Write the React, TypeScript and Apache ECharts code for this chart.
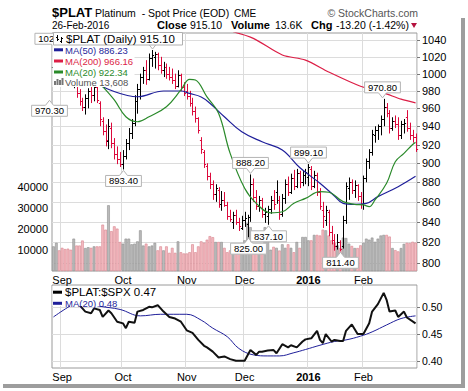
import React, { useEffect, useRef } from 'react';
import * as echarts from 'echarts';

const FONT = '"Liberation Sans", Arial, Helvetica, sans-serif';
const RED = '#dc0a3c';
const NAVY = '#1f1f9a';
const CRIMSON = '#dc1e46';
const GREEN = '#2a8a2a';
const GRID_LINE = '#dcdcdc';

// ---- calendar (trading days) ----
const HOLIDAYS = ['2015-09-07', '2015-11-26', '2015-12-25', '2016-01-01', '2016-01-18', '2016-02-15'];
const FIRST_DAY = '2015-08-27';
const LAST_DAY = '2016-02-26';
const MONTHS = ['Jan', 'Feb', 'Mar', 'Apr', 'May', 'Jun', 'Jul', 'Aug', 'Sep', 'Oct', 'Nov', 'Dec'];

function buildDates(): string[] {
  const out: string[] = [];
  const d = new Date(FIRST_DAY + 'T00:00:00Z');
  const end = new Date(LAST_DAY + 'T00:00:00Z').getTime();
  while (d.getTime() <= end) {
    const wd = d.getUTCDay();
    const s = d.toISOString().slice(0, 10);
    if (wd !== 0 && wd !== 6 && HOLIDAYS.indexOf(s) < 0) out.push(s);
    d.setUTCDate(d.getUTCDate() + 1);
  }
  return out;
}

// ---- daily OHLC of $PLAT ----
const opens = [
  1008, 1018, 1021, 1008, 999, 996, 993, 990, 992, 978,
  968, 962, 972, 980, 975, 984, 966, 946, 935, 924,
  938, 922, 910, 904, 899, 908, 922, 933, 944, 968,
  982, 996, 1004, 994, 1018, 1020, 1023, 1010, 1004, 1008,
  1000, 996, 992, 986, 998, 985, 980, 974, 966, 957,
  949, 925, 912, 897, 887, 878, 868, 872, 858, 862,
  857, 846, 840, 847, 840, 834, 842, 838, 845, 878,
  865, 856, 862, 848, 846, 853, 862, 870, 862, 848,
  864, 878, 870, 884, 876, 890, 880, 888, 886, 894,
  876, 888, 870, 852, 842, 850, 830, 822, 816, 820,
  816, 842, 874, 880, 872, 877, 866, 858, 884, 902,
  912, 930, 936, 940, 948, 962, 955, 938, 946, 942,
  930, 942, 950, 938, 930, 928,
];
const highs = [
  1027.9, 1026, 1023, 1012, 1006, 1004, 999, 1000, 996, 982,
  972, 976, 983, 986, 988, 987, 968, 950, 942, 948,
  944, 927, 918, 912, 914, 926, 938, 948, 975, 988,
  1000, 1008, 1016, 1024, 1028.2, 1026, 1025, 1020, 1014, 1012,
  1008, 1006, 1000, 1004, 1000, 990, 988, 980, 972, 962,
  950, 928, 914, 900, 890, 882, 878, 875, 871, 870,
  860, 852, 850, 852, 844, 846, 850, 847, 888.2, 884,
  872, 866, 864, 854, 856, 866, 872, 882, 866, 868,
  883, 886, 889, 893, 894, 892, 892, 894, 899.1, 897,
  892, 890, 874, 860, 856, 852, 836, 828, 828, 822,
  846, 880, 885, 883, 882, 878, 870, 887, 905, 915,
  936, 940, 942, 952, 970.8, 966, 958, 950, 952, 950,
  946, 948, 958, 944, 936, 932,
];
const lows = [
  1004, 1010, 1004, 995, 990, 989, 988, 983, 972, 963,
  957, 953, 960, 966, 968, 966, 940, 930, 918, 915,
  916, 904, 899, 896, 893.4, 904, 914, 926, 940, 954,
  970, 988, 987, 992, 1008, 1006, 1004, 1000, 996, 994,
  992, 988, 982, 984, 980, 974, 970, 962, 952, 944,
  932, 910, 895, 882, 873, 862, 860, 854, 851, 855,
  842, 840, 833, 837, 831, 832, 835, 825, 840, 860,
  852, 850, 844, 839, 837.1, 848, 852, 858, 842, 845,
  858, 866, 868, 872, 874, 874, 876, 878, 876, 872,
  874, 866, 852, 834, 836, 826, 818, 812, 813, 811.4,
  814, 838, 862, 868, 864, 861, 853, 852, 880, 894,
  908, 922, 925, 930, 940, 950, 932, 935, 938, 925,
  926, 932, 934, 925, 922, 912,
];
const closes = [
  1018, 1021, 1008, 999, 996, 993, 990, 995, 978, 968,
  961, 972, 980, 975, 984, 970, 948, 935, 925, 940,
  922, 910, 904, 899, 908, 922, 933, 944, 968, 982,
  996, 1004, 994, 1018, 1022, 1023, 1010, 1004, 1008, 1000,
  996, 992, 986, 998, 985, 978, 974, 966, 957, 949,
  936, 915, 899, 887, 878, 868, 874, 858, 862, 857,
  846, 843, 847, 840, 836, 842, 844, 845, 878, 865,
  856, 862, 848, 850, 853, 862, 858, 862, 848, 864,
  878, 870, 884, 876, 890, 880, 888, 891, 896, 876,
  888, 870, 856, 846, 852, 830, 822, 816, 820, 814,
  842, 876, 880, 872, 877, 866, 858, 884, 902, 912,
  932, 936, 940, 948, 962, 955, 938, 946, 942, 930,
  942, 944, 938, 930, 928.3, 915.1,
];
// daily volume, thousands
const volumesK = [
  11.8, 13.5, 9.9, 11.1, 10.5, 10.7, 10.2, 15.5, 12.2, 12.2,
  14.6, 11.0, 11.4, 11.1, 11.8, 11.8, 11.8, 22.2, 19.8, 31.5,
  19.1, 21.4, 20.3, 13.9, 13.1, 15.5, 15.5, 12.8, 13.1, 14.2,
  19.5, 12.2, 13.1, 11.8, 12.2, 13.5, 9.9, 11.8, 9.9, 11.8,
  8.7, 11.1, 8.7, 14.2, 9.0, 8.4, 8.4, 9.0, 12.8, 9.0,
  11.8, 14.2, 13.6, 15.0, 16.7, 16.2, 13.9, 13.9, 13.9, 11.1,
  9.0, 9.9, 11.1, 9.0, 11.1, 10.2, 14.7, 23.0, 21.0, 11.6,
  13.1, 12.4, 12.4, 21.0, 14.7, 10.2, 11.6, 11.1, 9.8, 12.8,
  11.1, 12.8, 11.1, 9.0, 13.9, 11.1, 16.3, 16.3, 14.7, 14.7,
  17.3, 17.3, 17.0, 19.8, 19.5, 17.0, 14.7, 13.5, 12.3, 11.0,
  16.0, 15.8, 13.1, 12.0, 11.0, 11.0, 12.3, 13.5, 15.5, 15.0,
  16.0, 14.0, 15.5, 17.0, 17.3, 17.3, 16.5, 11.0, 10.0, 9.4,
  11.0, 13.0, 13.5, 13.4, 14.0, 13.608,
];

// moving averages: [bar index, value]
const ma50 = [
  [17, 984.8], [29, 973.2], [38, 979.8], [44, 979.8], [47, 977], [51, 973], [54, 965.8],
  [59, 950.6], [65, 934], [72, 923], [79, 914.1], [85, 895.5], [92, 879], [97, 866],
  [100, 858.5], [104, 857.5], [108, 858.5], [112, 865.3], [119, 875.5], [125, 886.23],
];
const ma200 = [
  [62, 1050.6], [69, 1042.4], [79, 1022.2], [87, 1016.1], [95, 1002], [106, 985.3],
  [114, 977.6], [120, 970.4], [125, 966.16],
];
const ma20 = [
  [17, 984.8], [21, 969.5], [25, 950.6], [29, 945], [33, 950.6], [39, 961.9], [44, 981],
  [47, 993.4], [49, 992.6], [53, 973], [57, 954.4], [61, 910.5], [66, 873.8], [70, 858.5],
  [75, 849], [79, 850], [83, 858.5], [87, 863.5], [92, 870.4], [95, 869.8], [100, 860.2],
  [104, 857.5], [107, 856.9], [109, 855.2], [111, 861.9], [115, 879], [118, 901.6],
  [121, 910.5], [124, 920], [125, 922.34],
];

// $PLAT:$SPX ratio and its MA(20): [bar index, value]
const ratio = [
  [9, 0.504], [11, 0.492], [13, 0.489], [14, 0.498], [16, 0.495], [17, 0.482], [19, 0.494],
  [20, 0.489], [22, 0.473], [24, 0.470], [25, 0.461], [26, 0.473], [28, 0.471], [29, 0.492],
  [31, 0.495], [33, 0.501], [34, 0.500], [36, 0.504], [38, 0.492], [40, 0.482], [42, 0.479],
  [44, 0.473], [46, 0.457], [48, 0.452], [50, 0.439], [52, 0.428], [53, 0.425], [55, 0.417],
  [57, 0.406], [59, 0.408], [61, 0.403], [63, 0.400], [64, 0.400], [66, 0.400], [68, 0.420],
  [70, 0.411], [71, 0.417], [72, 0.417], [74, 0.419], [76, 0.420], [77, 0.414], [79, 0.431],
  [81, 0.425], [82, 0.429], [84, 0.425], [86, 0.436], [87, 0.440], [89, 0.442], [91, 0.456],
  [92, 0.439], [93, 0.433], [94, 0.450], [96, 0.436], [97, 0.439], [99, 0.437], [100, 0.437],
  [101, 0.456], [103, 0.468], [105, 0.450], [107, 0.450], [109, 0.470], [110, 0.492],
  [112, 0.506], [114, 0.527], [115, 0.514], [116, 0.492], [118, 0.494], [119, 0.482],
  [121, 0.492], [122, 0.481], [125, 0.470],
];
const ratioMa20 = [
  [0, 0.482], [5, 0.500], [8, 0.508], [12, 0.507], [16, 0.502], [23, 0.496], [30, 0.484],
  [37, 0.487], [46, 0.487], [51, 0.476], [55, 0.461], [60, 0.445], [64, 0.423], [69, 0.411],
  [74, 0.409], [78, 0.409], [83, 0.415], [87, 0.421], [92, 0.429], [97, 0.436], [101, 0.439],
  [106, 0.446], [110, 0.454], [115, 0.467], [120, 0.479], [125, 0.484],
];

// swing high/low annotations: [bar index, price, +1 high / -1 low, x nudge, text shown (1/0)]
const swings = [
  [0, 1027.9, 1, 1.5, 1], [0, 970.3, -1, -4, 1], [24, 893.4, -1, 0, 1], [34, 1028.2, 1, 0, 0],
  [68, 888.2, 1, 0, 1], [67, 825.0, -1, 0, 1], [74, 837.1, -1, 0, 1], [88, 899.1, 1, 0, 1],
  [99, 811.4, -1, 0, 1], [114, 970.8, 1, -2, 1],
];

const priceTicks = [800, 820, 840, 860, 880, 900, 920, 940, 960, 980, 1000, 1020, 1040];
const ratioTicks = [0.4, 0.45, 0.5];
const volumeTicks = [10000, 20000, 30000, 40000];

function buildOption() {
  const dates = buildDates();
  const isMonthStart = (i: number) => i > 0 && dates[i].slice(5, 7) !== dates[i - 1].slice(5, 7);
  const monthLabel = (v: string) => {
    const m = +v.slice(5, 7);
    return m === 1 ? `{y|${v.slice(0, 4)}}` : MONTHS[m - 1];
  };
  const up = closes.map((c, i) => ((i === 0 ? c >= opens[0] : c >= closes[i - 1]) ? 1 : 0));
  const L = Math.log;
  const ohlc = opens.map((o, i) => [
    i, L(o), L(closes[i]), L(Math.min(lows[i], o, closes[i])), L(Math.max(highs[i], o, closes[i])), up[i],
  ]);
  const vol = volumesK.map((v, i) => ({
    value: Math.round(v * 1000),
    itemStyle: up[i]
      ? { color: '#bababa', borderColor: '#8e8e8e', borderWidth: 0.6 }
      : { color: '#f4bcc2', borderColor: '#d9858f', borderWidth: 0.6 },
  }));

  const xAxis = (gridIndex: number) => ({
    type: 'category', gridIndex, data: dates, boundaryGap: true,
    axisLine: { show: false }, axisTick: { show: false },
    axisLabel: {
      interval: (i: number) => isMonthStart(i), formatter: monthLabel, margin: 3,
      color: '#000', fontSize: 11, fontFamily: FONT,
      rich: { y: { fontWeight: 'bold', fontSize: 11, fontFamily: FONT, color: '#000' } },
    },
    splitLine: { show: true, interval: (i: number) => isMonthStart(i), lineStyle: { color: GRID_LINE, width: 1 } },
  });

  const gridRender = (fmt: (v: number) => string, fs: number) => (params: any, api: any) => {
    const cs = params.coordSys;
    const y = api.coord([0, api.value(1)])[1];
    const yy = Math.round(y) + 0.5;
    const r = cs.x + cs.width;
    return {
      type: 'group',
      children: [
        { type: 'line', shape: { x1: cs.x, y1: yy, x2: r, y2: yy }, style: { stroke: GRID_LINE, lineWidth: 1 } },
        { type: 'line', shape: { x1: r, y1: yy, x2: r + 3, y2: yy }, style: { stroke: '#777', lineWidth: 1 } },
        {
          type: 'text', x: r + 5, y: y,
          style: { text: fmt(api.value(2)), fill: '#000', font: `${fs}px ${FONT}`, textAlign: 'left', textVerticalAlign: 'middle' },
        },
      ],
    };
  };

  const ohlcRender = (params: any, api: any) => {
    const i = api.value(0);
    const o = api.coord([i, api.value(1)]);
    const c = api.coord([i, api.value(2)]);
    const lo = api.coord([i, api.value(3)]);
    const hi = api.coord([i, api.value(4)]);
    const color = api.value(5) > 0 ? '#000' : RED;
    const x = Math.round(o[0]) + 0.5;
    const st = { stroke: color, lineWidth: 1 };
    return {
      type: 'group',
      children: [
        { type: 'line', shape: { x1: x, y1: hi[1], x2: x, y2: lo[1] }, style: st },
        { type: 'line', shape: { x1: x - 1.6, y1: Math.round(o[1]) + 0.5, x2: x, y2: Math.round(o[1]) + 0.5 }, style: st },
        { type: 'line', shape: { x1: x, y1: Math.round(c[1]) + 0.5, x2: x + 1.6, y2: Math.round(c[1]) + 0.5 }, style: st },
      ],
    };
  };

  const swingRender = (params: any, api: any) => {
    const p = api.coord([api.value(0), api.value(1)]);
    const dir = api.value(2);
    const x = Math.round(p[0] + api.value(3)) + 0.5;
    const s = dir > 0 ? -1 : 1;
    const tip = p[1] + s * 1;
    const text = Math.exp(api.value(1)).toFixed(2);
    const w = Math.max(31, text.length * 5.3 + 4), h = 11, th = 5, tw = 4;
    const near = tip + s * th;
    const far = near + s * h;
    const children: any[] = [
      {
        type: 'polygon',
        shape: { points: [[x, tip], [x + tw, near], [x + w / 2, near], [x + w / 2, far], [x - w / 2, far], [x - w / 2, near], [x - tw, near]] },
        style: { fill: '#fff', stroke: '#b4b4b4', lineWidth: 1 },
      },
    ];
    if (api.value(4) > 0) {
      children.push({
        type: 'text', x: x, y: (near + far) / 2,
        style: { text, fill: '#000', font: `9.5px ${FONT}`, textAlign: 'center', textVerticalAlign: 'middle' },
      });
    }
    return { type: 'group', children };
  };

  const lineSeries = (name: string, data: number[][], color: string, width: number, xi: number, yi: number, smooth: number | boolean, log: boolean, z: number) => ({
    type: 'line', name, xAxisIndex: xi, yAxisIndex: yi, z,
    data: data.map(([i, v]) => [i, log ? Math.log(v) : v]),
    smooth, symbol: 'none', showSymbol: false, silent: true,
    lineStyle: { color, width }, itemStyle: { color },
  });

  const T = (x: number, y: number, text: string, font: string, fill = '#000', align = 'left') => ({
    type: 'text', x, y, z: 100,
    style: { text, font, fill, textAlign: align, textVerticalAlign: 'middle' },
  });
  const Ln = (x1: number, y1: number, x2: number, y2: number, stroke: string, lineWidth = 1) => ({
    type: 'line', z: 100, shape: { x1, y1, x2, y2 }, style: { stroke, lineWidth },
  });
  const R = (x: number, y: number, width: number, height: number, fill: string, stroke?: string) => ({
    type: 'rect', z: 100, shape: { x, y, width, height }, style: stroke ? { fill, stroke, lineWidth: 1 } : { fill },
  });

  const graphic: any[] = [
    // drop shadow of the chart card
    R(461, 18, 4, 370, '#9d9d9d'),
    R(3, 384, 462, 4, '#9d9d9d'),
    // header
    T(52, 12.5, '$PLAT', `bold 13px ${FONT}`),
    T(95, 12.5, 'Platinum\u00a0 - Spot Price (EOD)', `10.5px ${FONT}`),
    T(234, 13, 'CME', `10px ${FONT}`),
    T(418, 13, '\u00a9 StockCharts.com', `10.5px ${FONT}`, '#555', 'right'),
    T(52, 25, '26-Feb-2016', `10px ${FONT}`),
    T(157, 25, 'Close', `bold 11px ${FONT}`),
    T(190, 25, '915.10', `10.5px ${FONT}`),
    T(231, 25, 'Volume', `bold 11px ${FONT}`),
    T(275, 25, '13.6K', `10.5px ${FONT}`),
    T(311, 25, 'Chg', `bold 11px ${FONT}`),
    T(336, 25, '-13.20 (-1.42%)', `10.5px ${FONT}`),
    { type: 'polygon', z: 100, shape: { points: [[411, 23], [417, 23], [414, 28]] }, style: { fill: '#b5123f' } },
    // main legend
    R(52.5, 45, 82, 42, '#fff'),
    R(53.5, 32.5, 129, 12.5, '#fff', '#b0b0b0'),
    Ln(57.5, 35, 57.5, 41, '#000'), Ln(56, 37.5, 57.5, 37.5, '#000'), Ln(57.5, 39.5, 59, 39.5, '#000'),
    Ln(61.5, 37, 61.5, 43, '#000'), Ln(60, 41.5, 61.5, 41.5, '#000'), Ln(61.5, 38.5, 63, 38.5, '#000'),
    T(66, 38.8, '$PLAT (Daily) 915.10', `11.5px ${FONT}`),
    Ln(54, 49.8, 63, 49.8, NAVY, 3), T(65, 50, 'MA(50) 886.23', `9.5px ${FONT}`, NAVY),
    Ln(54, 61, 63, 61, CRIMSON, 3), T(65, 61, 'MA(200) 966.16', `9.5px ${FONT}`, CRIMSON),
    Ln(54, 72, 63, 72, GREEN, 3), T(65, 72, 'MA(20) 922.34', `9.5px ${FONT}`, GREEN),
    R(54, 81, 2, 4, '#777'), R(56.5, 79, 2, 6, '#777'), R(59, 80, 2, 5, '#777'), R(61.5, 78, 2, 7, '#777'),
    T(65, 82, 'Volume 13,608', `9.5px ${FONT}`, '#555'),
    // ratio legend
    R(52.5, 286, 112, 12, '#fff'),
    R(52.5, 298, 68, 8, '#fff'),
    Ln(53, 292.2, 62, 292.2, '#000', 3), T(65, 292.2, '$PLAT:$SPX 0.47', `11.5px ${FONT}`),
    Ln(53, 303.3, 62, 303.3, NAVY, 3), T(65, 303.5, 'MA(20) 0.48', `9.5px ${FONT}`, NAVY),
  ];

  return {
    animation: false,
    backgroundColor: '#fff',
    grid: [
      { left: 52, right: 51, top: 33, height: 238, show: true, borderColor: '#9a9a9a', borderWidth: 1 },
      { left: 52, right: 51, top: 285, height: 83, show: true, borderColor: '#9a9a9a', borderWidth: 1 },
    ],
    xAxis: [xAxis(0), xAxis(1)],
    yAxis: [
      {
        type: 'value', gridIndex: 0, position: 'right', min: Math.log(792.8), max: Math.log(1049),
        axisLine: { show: false }, axisTick: { show: false }, axisLabel: { show: false }, splitLine: { show: false },
      },
      {
        type: 'value', gridIndex: 0, position: 'left', min: 0, max: 114000, interval: 10000,
        axisLine: { show: false }, axisTick: { show: false }, splitLine: { show: false },
        axisLabel: {
          formatter: (v: number) => (volumeTicks.indexOf(v) >= 0 ? String(v) : ''),
          margin: 4, color: '#000', fontSize: 11, fontFamily: FONT,
        },
      },
      {
        type: 'value', gridIndex: 1, position: 'right', min: 0.3864, max: 0.5418,
        axisLine: { show: false }, axisTick: { show: false }, axisLabel: { show: false }, splitLine: { show: false },
      },
    ],
    series: [
      {
        type: 'custom', name: 'priceGrid', xAxisIndex: 0, yAxisIndex: 0, z: 1, silent: true,
        data: priceTicks.map((p) => [0, Math.log(p), p]), encode: { x: 0, y: 1 },
        renderItem: gridRender((v) => String(v), 11),
      },
      {
        type: 'custom', name: 'ratioGrid', xAxisIndex: 1, yAxisIndex: 2, z: 1, silent: true,
        data: ratioTicks.map((r) => [0, r, r]), encode: { x: 0, y: 1 },
        renderItem: gridRender((v) => v.toFixed(2), 10.5),
      },
      {
        type: 'bar', name: 'Volume', xAxisIndex: 0, yAxisIndex: 1, z: 2, silent: true,
        barCategoryGap: '8%', data: vol,
      },
      {
        type: 'custom', name: '$PLAT', xAxisIndex: 0, yAxisIndex: 0, z: 3, silent: true,
        data: ohlc, encode: { x: 0, y: [1, 2, 3, 4] }, renderItem: ohlcRender,
      },
      lineSeries('MA(200)', ma200, CRIMSON, 1.2, 0, 0, 0.3, true, 4),
      lineSeries('MA(50)', ma50, NAVY, 1.2, 0, 0, 0.4, true, 4),
      lineSeries('MA(20)', ma20, GREEN, 1.2, 0, 0, 0.4, true, 4),
      {
        type: 'custom', name: 'swings', xAxisIndex: 0, yAxisIndex: 0, z: 5, silent: true,
        data: swings.map(([i, v, d, dx, t]) => [i, Math.log(v), d, dx, t]), encode: { x: 0, y: 1 },
        renderItem: swingRender,
      },
      lineSeries('MA(20) ratio', ratioMa20, NAVY, 1, 1, 2, 0.4, false, 3),
      lineSeries('$PLAT:$SPX', ratio, '#111', 2, 1, 2, false, false, 4),
    ],
    graphic,
  };
}

export default function App() {
  const ref = useRef<HTMLDivElement>(null);
  useEffect(() => {
    document.body.style.margin = '0';
    const chart = echarts.init(ref.current!, null, { renderer: 'svg', width: 468, height: 391 });
    chart.setOption(buildOption() as any);
    return () => chart.dispose();
  }, []);
  return <div ref={ref} style={{ width: 468, height: 391 }} />;
}
